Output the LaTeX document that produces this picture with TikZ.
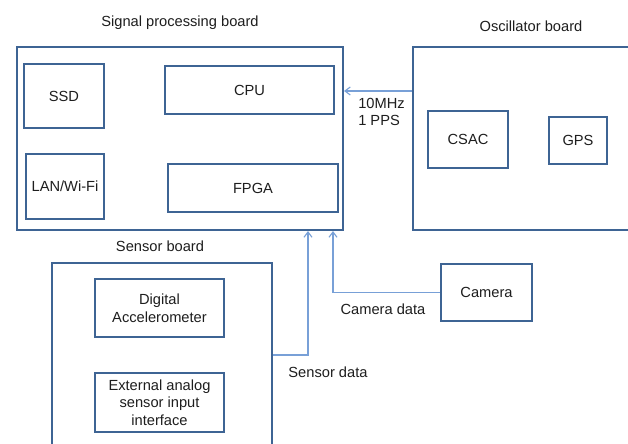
\documentclass[tikz,border=0pt]{standalone}
\usepackage{fontspec}
\setmainfont{Liberation Sans}
\usetikzlibrary{arrows.meta}
\definecolor{boxblue}{RGB}{62,100,148}
\definecolor{linkblue}{RGB}{120,160,215}
\definecolor{txt}{RGB}{30,30,30}
\begin{document}
\begin{tikzpicture}[x=0.75pt,y=-0.75pt,
  font=\fontsize{11}{13.3}\selectfont, text=txt,
  box/.style={draw=boxblue, line width=1.6pt, rectangle, inner sep=0pt, align=center},
  conn/.style={draw=linkblue, line width=0.8pt, -{Straight Barb[length=4pt,width=6pt]}},
  lbl/.style={inner sep=0pt, align=left}]
\useasboundingbox[fill=white] (0,0) rectangle (628,443);
% boards
\node[box, minimum width=244.5pt, minimum height=137.25pt] (spb) at (180,138.5) {};
\node[box, minimum width=185.25pt, minimum height=137.25pt] (osc) at (536.5,138.5) {};
\node[box, minimum width=165pt, minimum height=155.25pt] (sb) at (162,366.5) {};
% titles
\node (tspb) at (180,23) {Signal processing board};
\node (tosc) at (531,26) {Oscillator board};
\node (tsb) at (160,246) {Sensor board};
% components
\node[box, minimum width=60pt, minimum height=48pt] (ssd) at (64,96) {SSD};
\node[box, minimum width=126.75pt, minimum height=36pt] (cpu) at (249.5,90) {CPU};
\node[box, minimum width=58.5pt, minimum height=48.75pt] (lan) at (65,186.5) {LAN/Wi-Fi};
\node[box, minimum width=127.5pt, minimum height=36pt] (fpga) at (253,188) {FPGA};
\node[box, minimum width=60pt, minimum height=42.75pt] (csac) at (468,139.5) {CSAC};
\node[box, minimum width=43.5pt, minimum height=35.25pt] (gps) at (578,140.5) {GPS};
\node[box, minimum width=96.75pt, minimum height=43.5pt] (acc) at (159.5,308) {Digital\\Accelerometer};
\node[box, minimum width=96.75pt, minimum height=44.25pt] (ext) at (159.5,402.5) {External analog\\sensor input\\interface};
\node[box, minimum width=68.25pt, minimum height=42.75pt] (cam) at (486.5,292.5) {Camera};
% connectors
\draw[conn] (osc.west |- 0,91) -- (spb.east |- 0,91);
\draw[conn] (sb.east |- 0,355) -| (spb.south -| 308,0);
\draw[conn] (cam.west) -| (spb.south -| 333,0);
% labels
\node[lbl, anchor=west] (lfreq) at (358,112) {10MHz\\1 PPS};
\node (lcam) at (383,309) {Camera data};
\node (lsens) at (328,372) {Sensor data};
\end{tikzpicture}
\end{document}
